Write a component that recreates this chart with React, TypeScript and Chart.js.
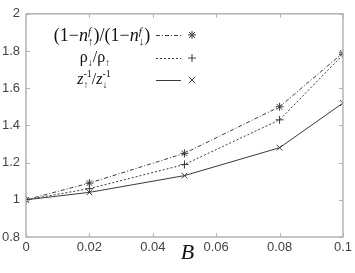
import React, { useEffect, useRef } from "react";
import { Chart, registerables } from "chart.js";

Chart.register(...registerables);

const bValues = [0, 0.02, 0.05, 0.08, 0.1];
const nRatio = [1, 1.09, 1.25, 1.5, 1.79];
const rhoRatio = [1, 1.06, 1.19, 1.43, 1.78];
const zRatio = [1, 1.04, 1.13, 1.28, 1.52];
const xTickLabels = ["0", "0.02", "0.04", "0.06", "0.08", "0.1"];
const yTickLabels = ["0.8", "1", "1.2", "1.4", "1.6", "1.8", "2"];
const xTitle = "B";

const LINE = "#3a3a3a";
const FRAME = "#b4b4b4";

function drawSegs(ctx: CanvasRenderingContext2D, segs: any[], cx: number, y: number, size: number) {
  const fontFor = (s: any) =>
    `${s.italic ? "italic " : ""}${s.small ? Math.round(size * 0.62) : size}px "Liberation Serif", "DejaVu Serif", serif`;
  const widths: number[] = [];
  segs.forEach((s) => {
    ctx.font = fontFor(s);
    widths.push(ctx.measureText(s.t).width);
  });
  let x = 0;
  const xs: number[] = [];
  let prevX = 0;
  let prevW = 0;
  segs.forEach((s, i) => {
    if (s.stack) {
      xs.push(prevX);
      x = prevX + Math.max(prevW, widths[i]);
    } else {
      xs.push(x);
      prevX = x;
      prevW = widths[i];
      x += widths[i];
    }
  });
  const x0 = cx - x / 2;
  ctx.textBaseline = "alphabetic";
  ctx.textAlign = "left";
  ctx.fillStyle = "#111";
  segs.forEach((s, i) => {
    ctx.font = fontFor(s);
    ctx.fillText(s.t, x0 + xs[i], y + (s.dy || 0));
  });
}

function drawMarker(ctx: CanvasRenderingContext2D, kind: string, x: number, y: number, r: number) {
  ctx.beginPath();
  if (kind === "star" || kind === "cross") {
    ctx.moveTo(x - r, y);
    ctx.lineTo(x + r, y);
    ctx.moveTo(x, y - r);
    ctx.lineTo(x, y + r);
  }
  if (kind === "star" || kind === "crossRot") {
    const d = r * 0.75;
    ctx.moveTo(x - d, y - d);
    ctx.lineTo(x + d, y + d);
    ctx.moveTo(x - d, y + d);
    ctx.lineTo(x + d, y - d);
  }
  ctx.stroke();
}

const decorPlugin = {
  id: "decor",
  afterDraw(chart: any) {
    const ctx: CanvasRenderingContext2D = chart.ctx;
    const { left, right, top, bottom } = chart.chartArea;
    const xs = chart.scales.x;
    const ys = chart.scales.y;
    ctx.save();
    ctx.strokeStyle = FRAME;
    ctx.lineWidth = 1.5;
    ctx.setLineDash([]);
    ctx.strokeRect(left, top, right - left, bottom - top);
    ctx.lineWidth = 1;
    const tl = 4;
    xs.ticks.forEach((t: any) => {
      const px = Math.round(xs.getPixelForValue(t.value)) + 0.5;
      ctx.beginPath();
      ctx.moveTo(px, bottom);
      ctx.lineTo(px, bottom - tl);
      ctx.moveTo(px, top);
      ctx.lineTo(px, top + tl);
      ctx.stroke();
    });
    ys.ticks.forEach((t: any) => {
      const py = Math.round(ys.getPixelForValue(t.value)) + 0.5;
      ctx.beginPath();
      ctx.moveTo(left, py);
      ctx.lineTo(left + tl, py);
      ctx.moveTo(right, py);
      ctx.lineTo(right - tl, py);
      ctx.stroke();
    });

    const rows = [
      { y: 35, dash: [4, 2, 1, 2], marker: "star" },
      { y: 58, dash: [2, 2], marker: "cross" },
      { y: 80, dash: [], marker: "crossRot" },
    ];
    ctx.strokeStyle = LINE;
    rows.forEach((r) => {
      ctx.setLineDash(r.dash);
      ctx.lineWidth = 1;
      ctx.beginPath();
      ctx.moveTo(156, r.y + 0.5);
      ctx.lineTo(181, r.y + 0.5);
      ctx.stroke();
      ctx.setLineDash([]);
      drawMarker(ctx, r.marker, 192, r.y, 4);
    });

    const row1: any[] = [
      { t: "(1\u2212" },
      { t: "n", italic: true },
      { t: "f", italic: true, small: true, dy: -6 },
      { t: "\u2191", small: true, dy: 4, stack: true },
      { t: ")/(1\u2212" },
      { t: "n", italic: true },
      { t: "f", italic: true, small: true, dy: -6 },
      { t: "\u2193", small: true, dy: 4, stack: true },
      { t: ")" },
    ];
    drawSegs(ctx, row1, 102, 41, 18);
    const row2: any[] = [
      { t: "\u03c1" },
      { t: "\u2193", small: true, dy: 4 },
      { t: "/\u03c1" },
      { t: "\u2191", small: true, dy: 4 },
    ];
    drawSegs(ctx, row2, 95, 62, 16);
    const row3: any[] = [
      { t: "z", italic: true },
      { t: "-1", small: true, dy: -7 },
      { t: "\u2191", small: true, dy: 4, stack: true },
      { t: "/" },
      { t: "z", italic: true },
      { t: "-1", small: true, dy: -7 },
      { t: "\u2193", small: true, dy: 4, stack: true },
    ];
    drawSegs(ctx, row3, 94, 84, 16);

    ctx.font = 'italic 22px "Liberation Serif", "DejaVu Serif", serif';
    ctx.fillStyle = "#111";
    ctx.textAlign = "center";
    ctx.textBaseline = "alphabetic";
    ctx.fillText(xTitle, (left + right) / 2 + 3, 259);
    ctx.restore();
  },
};

export default function App() {
  const ref = useRef<HTMLCanvasElement | null>(null);
  useEffect(() => {
    if (!ref.current) return;
    const mk = (label: string, data: number[], dash: number[], style: string) => ({
      label,
      data: bValues.map((b, i) => ({ x: b, y: data[i] })),
      borderColor: LINE,
      backgroundColor: LINE,
      borderWidth: 1,
      borderDash: dash,
      pointStyle: style,
      pointRadius: 4,
      pointBorderColor: LINE,
      pointBorderWidth: 1,
      fill: false,
      tension: 0,
    });
    const tickFont = { family: '"Liberation Sans", Arial, sans-serif', size: 13 };
    const chart = new Chart(ref.current, {
      type: "line",
      data: {
        datasets: [
          mk("n", nRatio, [4, 2, 1, 2], "star"),
          mk("rho", rhoRatio, [2, 2], "cross"),
          mk("z", zRatio, [], "crossRot"),
        ],
      },
      options: {
        animation: false,
        responsive: false,
        maintainAspectRatio: false,
        layout: { padding: { left: 0, right: 11, top: 8, bottom: 0 } },
        plugins: { legend: { display: false }, tooltip: { enabled: false } },
        scales: {
          x: {
            type: "linear",
            min: 0,
            max: 0.1,
            grid: { display: false, drawTicks: false },
            border: { display: false },
            afterFit: (s: any) => {
              s.height = 36;
            },
            ticks: {
              stepSize: 0.02,
              padding: 3,
              color: "#444",
              font: tickFont,
              callback: (_v: any, i: number) => xTickLabels[i],
            },
          },
          y: {
            min: 0.8,
            max: 2,
            grid: { display: false, drawTicks: false },
            border: { display: false },
            afterFit: (s: any) => {
              s.width = 26;
            },
            ticks: {
              stepSize: 0.2,
              padding: 6,
              color: "#444",
              font: tickFont,
              callback: (_v: any, i: number) => yTickLabels[i],
            },
          },
        },
      },
      plugins: [decorPlugin],
    } as any);
    return () => chart.destroy();
  }, []);
  return (
    <div style={{ position: "fixed", left: 0, top: 0, width: 355, height: 273, background: "#fff" }}>
      <canvas ref={ref} width={355} height={273} style={{ width: 355, height: 273 }} />
    </div>
  );
}
